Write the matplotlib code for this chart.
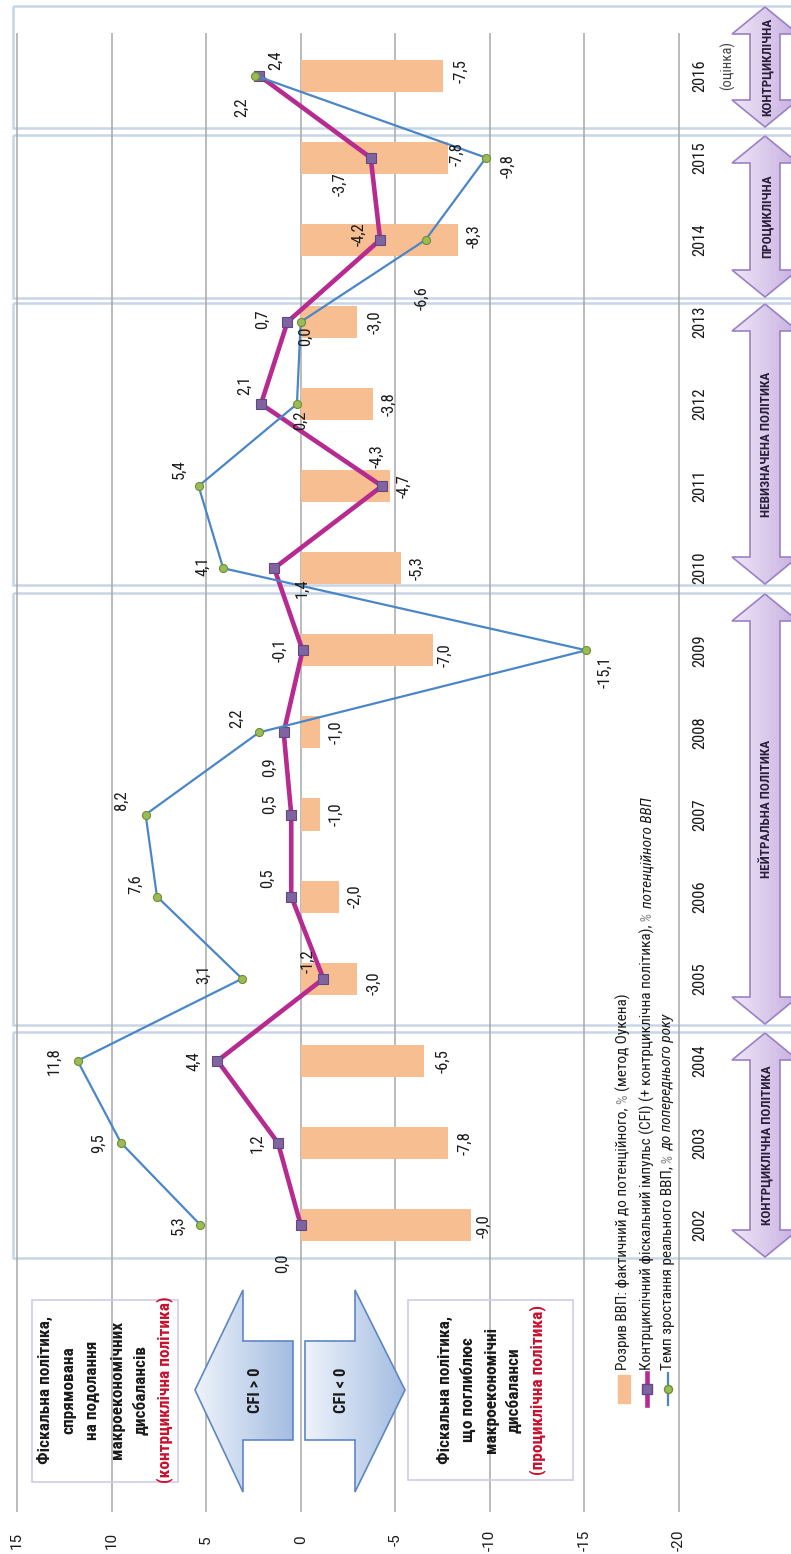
import numpy as np
import matplotlib.pyplot as plt
import matplotlib.colors as mcolors
from matplotlib.patches import Polygon, Rectangle
from matplotlib.transforms import Affine2D

plt.rcParams['font.family'] = ['Roboto Condensed', 'DejaVu Sans']

# дані: розрив ВВП, контрциклічний фіскальний імпульс, темп зростання ВВП
years = list(range(2002, 2017))
gdp_gap = [-9.0, -7.8, -6.5, -3.0, -2.0, -1.0, -1.0, -7.0, -5.3, -4.7, -3.8, -3.0, -8.3, -7.8, -7.5]
cfi = [0.0, 1.2, 4.4, -1.2, 0.5, 0.5, 0.9, -0.1, 1.4, -4.3, 2.1, 0.7, -4.2, -3.7, 2.2]
growth = [5.3, 9.5, 11.8, 3.1, 7.6, 8.2, 2.2, -15.1, 4.1, 5.4, 0.2, 0.0, -6.6, -9.8, 2.4]
value_ticks = [15, 10, 5, 0, -5, -10, -15, -20]
period_names = ['КОНТРЦИКЛІЧНА ПОЛІТИКА', 'НЕЙТРАЛЬНА ПОЛІТИКА', 'НЕВИЗНАЧЕНА ПОЛІТИКА',
                'ПРОЦИКЛІЧНА', 'КОНТРЦИКЛІЧНА']

# межі рамок періодів (пікселі по вертикалі: верх, низ)
period_px = [(1032, 1258), (593, 1025), (303, 585), (135, 298), (6, 128)]

# зсуви підписів (пікселі: вправо, вниз)
growth_off = [(-22, 0), (-23, 0), (-23, 0), (-38, -4), (-21, -12), (-24, -14), (-23, -14), (19, 22),
              (-20, -2), (-19, -17), (4, 16), (5, 14), (-4, 58), (22, 8), (20, -15)]
cfi_off = [(-18, 38), (-21, 0), (-24, 0), (-15, -18), (-24, -18), (-22, -10), (-14, 35), (-23, 0),
           (28, 20), (-5, -30), (-16, -19), (-25, -3), (-21, -6), (-31, 26), (-18, 32)]
gap_off = [(13, 1), (17, 0), (19, 0), (17, 4), (16, 0), (16, 0), (16, 0), (12, 5),
           (16, 0), (14, 0), (16, 0), (18, 0), (16, -4), (9, -4), (18, -5)]

BAR = '#f7bf91'
MAGENTA = '#b72a90'
BLUE = '#4a86c8'
TXT = '#1a1a1a'
RED = '#c8102e'


def vx(p):
    # горизонтальний піксель -> значення, %
    return 15 - (p - 17) / 18.914


def yy(p):
    # вертикальний піксель -> рік
    return 2002 + (1225 - p) / 82.1


def fmt(v):
    return f'{v:.1f}'.replace('.', ',')


fig = plt.figure(figsize=(7.91, 15.54), dpi=100)
ax = fig.add_axes([0, 0, 1, 1])
ax.axis('off')
px = Affine2D().scale(0.01, -0.01).translate(0, 15.54) + fig.dpi_scale_trans


def gradient_polygon(verts, c0, c1, ec, z):
    poly = Polygon(verts, closed=True, transform=px, facecolor='none',
                   edgecolor=ec, lw=1.2, zorder=z + 0.1)
    ax.add_patch(poly)
    xs = [p[0] for p in verts]
    ys = [p[1] for p in verts]
    a = np.array(mcolors.to_rgb(c0))
    b = np.array(mcolors.to_rgb(c1))
    t = np.linspace(0, 1, 64)[:, None]
    img = (a * (1 - t) + b * t)[None, :, :]
    im = ax.imshow(img, extent=[min(xs), max(xs), max(ys), min(ys)], transform=px,
                   aspect='auto', interpolation='bilinear', zorder=z)
    im.set_clip_path(poly)


# рамки періодів
for top, bot in period_px:
    ax.add_patch(Rectangle((13, top), 800 - 13, bot - top, transform=px, fill=False,
                           ec='#c9d5e7', lw=1.8, zorder=1))

# сітка та підписи шкали
ax.vlines(value_ticks, yy(1512), yy(33), colors='#a8a8a8', lw=1.1, zorder=1.5)
for v in value_ticks:
    ax.text(v, yy(1540), str(v), rotation=90, ha='center', va='center',
            fontsize=11, color=TXT, family=['Roboto', 'DejaVu Sans'])

# ряди
ax.barh(years, gdp_gap, height=0.39, color=BAR, zorder=2)
ax.plot(cfi, years, color=MAGENTA, lw=3.3, marker='s', ms=6.5,
        mfc='#8064a2', mec='#5c4a80', mew=0.8, zorder=3)
ax.plot(growth, years, color=BLUE, lw=1.6, marker='o', ms=5.8,
        mfc='#9bbb59', mec='#6f8f30', mew=0.8, zorder=4)

for series, offs in ((gdp_gap, gap_off), (cfi, cfi_off), (growth, growth_off)):
    for yr, v, (dx, dy) in zip(years, series, offs):
        ax.annotate(fmt(v), (v, yr), xytext=(dx, -dy), textcoords='offset pixels',
                    rotation=90, ha='center', va='center', fontsize=12, color=TXT, zorder=6)

# роки
for yr in years:
    ax.text(vx(700), yr, str(yr), rotation=90, ha='center', va='center', fontsize=12, color=TXT)
ax.text(727, 66, '(оцінка)', transform=px, rotation=90, ha='center', va='center',
        fontsize=10.5, color='#444444', zorder=7)

# стрілки з типом політики
cx, hw, sw, hl = 765, 33, 15, 27
for (top, bot), name in zip(period_px, period_names):
    y0, y1 = top + 1, bot - 1
    verts = [(cx, y0), (cx + hw, y0 + hl), (cx + sw, y0 + hl), (cx + sw, y1 - hl),
             (cx + hw, y1 - hl), (cx, y1), (cx - hw, y1 - hl), (cx - sw, y1 - hl),
             (cx - sw, y0 + hl), (cx - hw, y0 + hl)]
    gradient_polygon(verts, '#efe6f7', '#c7b0e0', '#9a80c4', 5)
    ax.text(cx + 2, (y0 + y1) / 2, name, transform=px, rotation=90, ha='center', va='center',
            fontsize=9.5, fontweight='bold', color='#2a1f3a', zorder=6)

# пояснювальні блоки
ax.add_patch(Rectangle((32, 1300), 146, 182, transform=px, fill=False, ec='#d2cbe8', lw=1.2, zorder=1.6))
ax.add_patch(Rectangle((408, 1300), 165, 180, transform=px, fill=False, ec='#d2cbe8', lw=1.2, zorder=1.6))
left_lines = ['Фіскальна політика,', 'спрямована', 'на подолання', 'макроекономічних', 'дисбалансів']
for i, s in enumerate(left_lines):
    ax.text(45 + 24 * i, 1390, s, transform=px, rotation=90, ha='center', va='center',
            fontsize=12.5, fontweight='bold', color=TXT, zorder=6)
ax.text(165, 1390, '(контрциклічна політика)', transform=px, rotation=90, ha='center', va='center',
        fontsize=12.5, fontweight='bold', color=RED, zorder=6)
right_lines = ['Фіскальна політика,', 'що поглиблює', 'макроекономічні', 'дисбаланси']
for i, s in enumerate(right_lines):
    ax.text(445 + 23 * i, 1390, s, transform=px, rotation=90, ha='center', va='center',
            fontsize=12.5, fontweight='bold', color=TXT, zorder=6)
ax.text(538, 1390, '(проциклічна політика)', transform=px, rotation=90, ha='center', va='center',
        fontsize=12.5, fontweight='bold', color=RED, zorder=6)

cfi_pos = [(195, 1390), (243, 1290), (243, 1341), (293, 1341), (293, 1440), (243, 1440), (243, 1492)]
cfi_neg = [(305, 1341), (355, 1341), (355, 1290), (405, 1390), (355, 1492), (355, 1440), (305, 1440)]
gradient_polygon(cfi_pos, '#eef3fa', '#a4bde2', '#5f86c2', 5)
gradient_polygon(cfi_neg, '#eef3fa', '#a4bde2', '#5f86c2', 5)
ax.text(256, 1390, 'CFI > 0', transform=px, rotation=90, ha='center', va='center',
        fontsize=12, fontweight='bold', color=TXT, zorder=6)
ax.text(342, 1390, 'CFI < 0', transform=px, rotation=90, ha='center', va='center',
        fontsize=12, fontweight='bold', color=TXT, zorder=6)

# легенда
ax.add_patch(Rectangle((618, 1375), 12, 28, transform=px, color=BAR, zorder=5))
ax.plot([647, 647], [1373, 1405], transform=px, color=MAGENTA, lw=3.3, zorder=5)
ax.plot([647], [1389], transform=px, marker='s', ms=6.5, mfc='#8064a2', mec='#5c4a80', zorder=6)
ax.plot([668, 668], [1373, 1405], transform=px, color=BLUE, lw=1.6, zorder=5)
ax.plot([668], [1389], transform=px, marker='o', ms=5.8, mfc='#9bbb59', mec='#6f8f30', zorder=6)

legend_rows = [
    (623, [('Розрив ВВП: фактичний до потенційного,', 'normal', TXT, True),
           ('%', 'normal', '#8a8a8a', True),
           ('(метод Оукена)', 'normal', TXT, False)]),
    (647, [('Контрциклічний фіскальний імпульс (CFI) (+ контрциклічна політика),', 'normal', TXT, True),
           ('%', 'italic', '#8a8a8a', True),
           ('потенційного ВВП', 'italic', TXT, False)]),
    (668, [('Темп зростання реального ВВП,', 'normal', TXT, True),
           ('%', 'italic', '#8a8a8a', True),
           ('до попереднього року', 'italic', TXT, False)]),
]
renderer = fig.canvas.get_renderer()
for x, pieces in legend_rows:
    y = 1370
    for s, style, color, space in pieces:
        t = ax.text(x, y, s, transform=px, rotation=90, rotation_mode='anchor', ha='left',
                    va='center', fontsize=11, fontstyle=style, color=color, zorder=6)
        y -= t.get_window_extent(renderer).height + (3.5 if space else 0)

ax.set_xlim(vx(0), vx(791))
ax.set_ylim(yy(1554), yy(0))

fig.savefig('out.png', dpi=100)
